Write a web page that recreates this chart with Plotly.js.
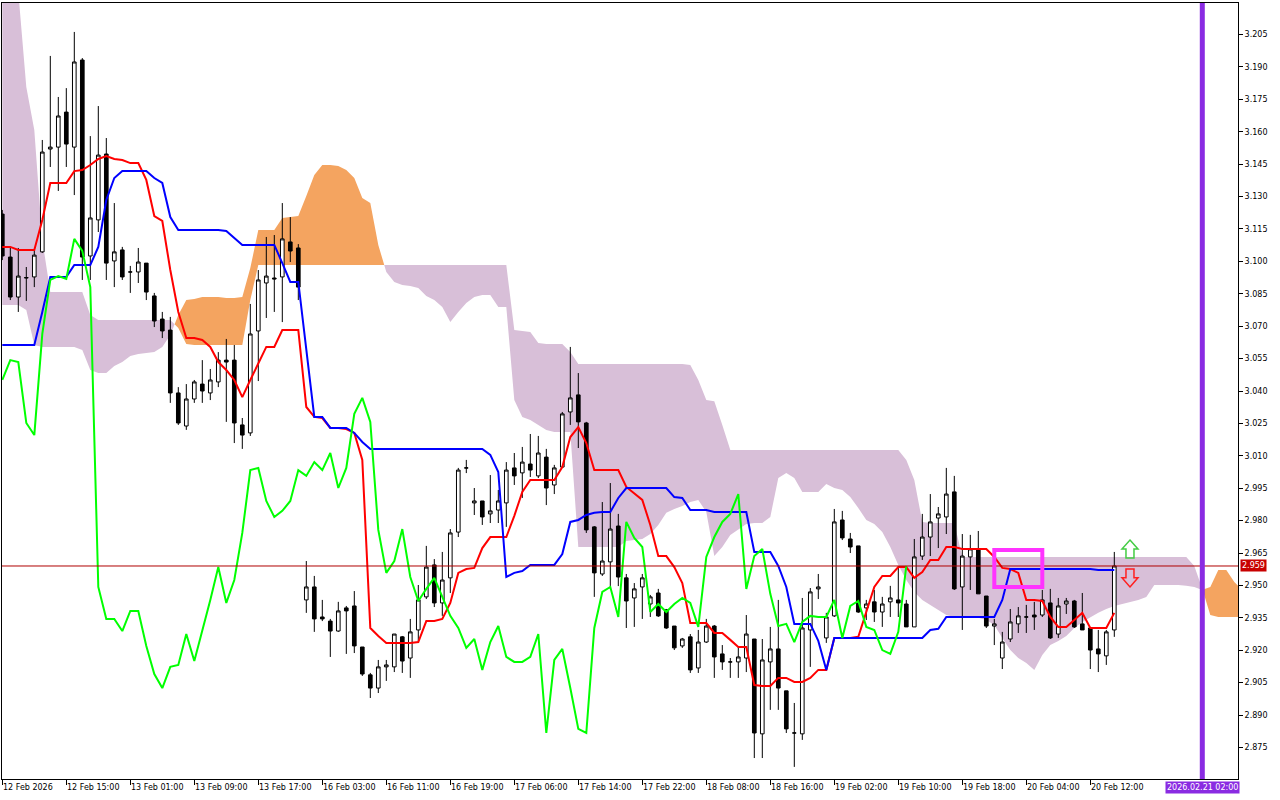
<!DOCTYPE html>
<html>
<head>
<meta charset="utf-8">
<script src="https://cdn.plot.ly/plotly-3.0.1.min.js"></script>
<style>html,body{margin:0;padding:0;background:#fff;}#chart{width:1280px;height:800px;}</style>
</head>
<body>
<div id="chart"></div>
<script>
// ---------------- DATA (H1 candles, index = bar number) ----------------
const openP = [3.1219,3.1020,3.0835,3.0923,3.0928,3.1044,3.1520,3.1529,3.1691,3.1529,
3.1932,3.1025,3.1192,3.1497,3.1002,3.1053,3.0951,3.0951,3.0992,3.0840,
3.0733,3.0682,3.0391,3.0238,3.0363,3.0432,3.0391,3.0442,3.0543,3.0543,
3.0243,3.0206,3.0678,3.0900,3.0923,3.0928,3.1090,3.1062,2.9433,2.9493,
2.9354,2.9335,2.9289,2.9396,2.9405,2.9215,2.9086,2.9025,2.9123,2.9123,
2.9262,2.9164,2.9294,2.9447,2.9595,2.9419,2.9535,2.9747,3.0044,2.9882,
2.9891,2.9831,2.9849,2.9882,3.0044,3.0021,3.0062,3.0007,3.0094,2.9965,
3.0048,3.0303,3.0382,3.0252,2.9771,2.9553,2.9609,2.9775,2.9535,2.9442,
2.9493,2.9414,2.9465,2.9387,2.9312,2.9220,2.9262,2.9118,2.9238,2.9312,
2.9183,2.9146,2.9146,2.9164,2.9252,2.8813,2.9146,2.9206,2.9012,2.8817,
2.8813,2.9294,2.9484,2.9257,2.9359,2.9803,2.9715,2.9683,2.9396,2.9424,
2.9377,2.9424,2.9433,2.9414,2.9308,2.9636,2.9724,2.9812,2.9817,2.9933,
2.9493,2.9632,2.9669,2.9451,2.9312,2.9164,2.9252,2.9322,2.9354,2.9363,
2.9363,2.9419,2.9275,2.9414,2.9428,2.9322,2.9303,2.9206,2.9174,2.9294];
const highP = [3.1238,3.1062,3.1062,3.0974,3.1048,3.1562,3.1951,3.1761,3.1802,3.2062,
3.1941,3.1580,3.1719,3.1571,3.1270,3.1067,3.0979,3.1062,3.0992,3.0854,
3.0766,3.0743,3.0418,3.0432,3.0451,3.0543,3.0502,3.0580,3.0641,3.0613,
3.0275,3.0803,3.0960,3.1113,3.1122,3.1270,3.1205,3.1080,2.9613,2.9544,
2.9433,2.9345,2.9424,2.9405,2.9474,2.9215,2.9095,2.9155,2.9155,2.9275,
2.9266,2.9345,2.9502,2.9683,2.9622,2.9655,2.9761,3.0044,3.0081,2.9951,
2.9891,3.0011,2.9942,3.0071,3.0113,3.0141,3.0201,3.0192,3.0132,3.0058,
3.0303,3.0604,3.0483,3.0257,2.9775,2.9886,2.9974,2.9831,2.9553,2.9511,
2.9553,2.9456,2.9484,2.9391,2.9312,2.9257,2.9275,2.9294,2.9345,2.9317,
2.9224,2.9164,2.9215,2.9363,2.9252,2.9252,2.9308,2.9433,2.9012,2.8956,
2.9442,2.9488,2.9553,2.9373,2.9854,2.9845,2.9743,2.9683,2.9433,2.9479,
2.9447,2.9498,2.9585,2.9433,2.9715,2.9831,2.9923,2.9863,3.0044,3.0007,
2.9738,2.9734,2.9752,2.9451,2.9345,2.9285,2.9391,2.9400,2.9410,2.9424,
2.9479,2.9484,2.9442,2.9442,2.9433,2.9465,2.9303,2.9294,2.9294,2.9655];
const lowP = [3.1006,3.0821,3.0766,3.0817,3.0881,3.1039,3.1437,3.1326,3.1437,3.1307,
3.0914,3.0914,3.1136,3.0914,3.0881,3.0914,3.0854,3.0900,3.0821,3.0696,
3.0645,3.0345,3.0243,3.0220,3.0345,3.0345,3.0358,3.0418,3.0257,3.0159,
3.0132,3.0192,3.0446,3.0738,3.0766,3.0719,3.0997,3.0821,2.9373,2.9285,
2.9335,2.9169,2.9285,2.9183,2.9187,2.9081,2.8979,2.9002,2.9058,2.9099,
2.9095,2.9072,2.9238,2.9437,2.9400,2.9359,2.9465,2.9724,3.0020,2.9826,
2.9780,2.9789,2.9789,2.9771,2.9965,2.9905,3.0002,2.9997,2.9872,2.9923,
3.0044,3.0243,3.0136,2.9743,2.9447,2.9544,2.9493,2.9497,2.9303,2.9308,
2.9345,2.9354,2.9354,2.9299,2.9201,2.9211,2.9095,2.9095,2.9234,2.9072,
2.9109,2.9072,2.9072,2.9099,2.8701,2.8701,2.8924,2.8924,2.8817,2.8660,
2.8785,2.9123,2.9437,2.9234,2.9354,2.9710,2.9650,2.9373,2.9340,2.9331,
2.9308,2.9354,2.9354,2.9308,2.9308,2.9618,2.9636,2.9673,2.9738,2.9479,
2.9294,2.9479,2.9461,2.9303,2.9224,2.9113,2.9238,2.9280,2.9280,2.9294,
2.9354,2.9252,2.9257,2.9368,2.9303,2.9294,2.9113,2.9099,2.9132,2.9262];
const closeP = [3.1025,3.0835,3.0932,3.0925,3.1029,3.1506,3.1529,3.1673,3.1543,3.1923,
3.1020,3.1201,3.1492,3.0992,3.1044,3.0928,3.0951,3.0997,3.0858,3.0724,
3.0678,3.0391,3.0252,3.0363,3.0442,3.0400,3.0451,3.0543,3.0534,3.0252,
3.0196,3.0664,3.0914,3.0932,3.0919,3.1104,3.1048,3.0881,2.9493,2.9345,
2.9345,2.9289,2.9382,2.9382,2.9220,2.9090,2.9025,2.9123,2.9132,2.9275,
2.9150,2.9285,2.9433,2.9585,2.9419,2.9525,2.9743,3.0034,3.0044,2.9891,
2.9817,2.9845,2.9891,3.0034,3.0007,3.0071,3.0034,3.0113,2.9951,3.0044,
3.0294,3.0368,3.0257,2.9757,2.9558,2.9613,2.9761,2.9539,2.9428,2.9484,
2.9535,2.9447,2.9359,2.9303,2.9211,2.9252,2.9109,2.9238,2.9312,2.9169,
2.9146,2.9146,2.9169,2.9275,2.8817,2.9155,2.9206,2.9025,2.8836,2.8817,
2.9303,2.9470,2.9493,2.9354,2.9794,2.9720,2.9678,2.9377,2.9414,2.9377,
2.9414,2.9442,2.9419,2.9308,2.9632,2.9724,2.9794,2.9831,2.9923,2.9484,
2.9636,2.9669,2.9461,2.9312,2.9322,2.9238,2.9331,2.9359,2.9354,2.9354,
2.9433,2.9257,2.9405,2.9428,2.9308,2.9294,2.9201,2.9183,2.9285,2.9590];

// Ichimoku lines
const tenkan = [3.1067,3.1067,3.1053,3.1053,3.1053,3.1192,3.1363,3.1363,3.1363,3.1418,
3.1423,3.1446,3.1474,3.1488,3.1474,3.1469,3.1455,3.1455,3.1377,3.1210,
3.1187,3.0960,3.0766,3.0645,3.0645,3.0636,3.0604,3.0534,3.0497,3.0451,
3.0372,3.0451,3.0529,3.0604,3.0604,3.0682,3.0682,3.0682,3.0326,3.0280,
3.0275,3.0229,3.0229,3.0224,3.0206,3.0081,2.9303,2.9266,2.9234,2.9234,
2.9234,2.9234,2.9238,2.9335,2.9335,2.9345,2.9419,2.9558,2.9576,2.9581,
2.9673,2.9724,2.9724,2.9724,2.9822,2.9933,2.9988,2.9988,2.9988,2.9988,
3.0048,3.0187,3.0233,3.0159,3.0034,3.0034,3.0034,3.0034,2.9956,2.9928,
2.9896,2.9780,2.9636,2.9636,2.9585,2.9511,2.9326,2.9326,2.9326,2.9280,
2.9280,2.9248,2.9215,2.9215,2.9039,2.9035,2.9035,2.9072,2.9072,2.9053,
2.9053,2.9072,2.9109,2.9109,2.9257,2.9257,2.9257,2.9262,2.9373,2.9493,
2.9544,2.9544,2.9585,2.9585,2.9535,2.9562,2.9618,2.9618,2.9678,2.9678,
2.9669,2.9669,2.9669,2.9669,2.9632,2.9581,2.9576,2.9558,2.9433,2.9433,
2.9428,2.9354,2.9308,2.9308,2.9340,2.9373,2.9303,2.9303,2.9303,2.9373];
const kijun = [3.0613,3.0613,3.0613,3.0613,3.0613,3.0766,3.0928,3.0928,3.0928,3.0983,
3.0983,3.0983,3.1067,3.1284,3.1386,3.1418,3.1418,3.1418,3.1418,3.1386,
3.1363,3.1205,3.1145,3.1145,3.1145,3.1145,3.1145,3.1145,3.1141,3.1108,
3.1076,3.1076,3.1076,3.1076,3.1076,3.0992,3.0905,3.0905,3.0590,3.0280,
3.0280,3.0229,3.0229,3.0229,3.0206,3.0164,3.0132,3.0132,3.0132,3.0132,
3.0132,3.0132,3.0132,3.0132,3.0132,3.0132,3.0132,3.0132,3.0132,3.0132,
3.0132,3.0104,3.0025,2.9539,2.9558,2.9567,2.9595,2.9595,2.9595,2.9595,
2.9645,2.9794,2.9803,2.9826,2.9836,2.9840,2.9840,2.9905,2.9951,2.9951,
2.9951,2.9951,2.9951,2.9951,2.9909,2.9905,2.9849,2.9849,2.9849,2.9840,
2.9840,2.9840,2.9840,2.9840,2.9655,2.9655,2.9655,2.9590,2.9493,2.9322,
2.9322,2.9322,2.9243,2.9109,2.9257,2.9257,2.9257,2.9257,2.9257,2.9257,
2.9257,2.9257,2.9257,2.9257,2.9257,2.9257,2.9294,2.9299,2.9354,2.9354,
2.9354,2.9354,2.9354,2.9354,2.9354,2.9433,2.9576,2.9576,2.9576,2.9576,
2.9576,2.9576,2.9576,2.9576,2.9576,2.9576,2.9576,2.9572,2.9572,2.9572];
const chikou = [3.0451,3.0543,3.0534,3.0252,3.0196,3.0664,3.0914,3.0932,3.0919,3.1104,
3.1048,3.0881,2.9493,2.9345,2.9345,2.9289,2.9382,2.9382,2.9220,2.9090,
2.9025,2.9123,2.9132,2.9275,2.9150,2.9285,2.9433,2.9585,2.9419,2.9525,
2.9743,3.0034,3.0044,2.9891,2.9817,2.9845,2.9891,3.0034,3.0007,3.0071,
3.0034,3.0113,2.9951,3.0044,3.0294,3.0368,3.0257,2.9757,2.9558,2.9613,
2.9761,2.9539,2.9428,2.9484,2.9535,2.9447,2.9359,2.9303,2.9211,2.9252,
2.9109,2.9238,2.9312,2.9169,2.9146,2.9146,2.9169,2.9275,2.8817,2.9155,
2.9206,2.9025,2.8836,2.8817,2.9303,2.9470,2.9493,2.9354,2.9794,2.9720,
2.9678,2.9377,2.9414,2.9377,2.9414,2.9442,2.9419,2.9308,2.9632,2.9724,
2.9794,2.9831,2.9923,2.9484,2.9636,2.9669,2.9461,2.9312,2.9322,2.9238,
2.9331,2.9359,2.9354,2.9354,2.9433,2.9257,2.9405,2.9428,2.9308,2.9294,
2.9201,2.9183,2.9285,2.9590];
const spanA = [3.0798,3.0798,3.0798,3.0775,3.0613,3.0604,3.0604,3.0604,3.0604,3.0604,
3.0590,3.0497,3.0483,3.0483,3.0516,3.0534,3.0562,3.0571,3.0576,3.0580,
3.0604,3.0659,3.0752,3.0821,3.0826,3.0835,3.0835,3.0835,3.0830,3.0830,
3.0835,3.0969,3.1145,3.1145,3.1145,3.1201,3.1205,3.1210,3.1303,3.1400,
3.1446,3.1446,3.1441,3.1423,3.1386,3.1293,3.1270,3.1076,3.0951,3.0905,
3.0891,3.0886,3.0877,3.0840,3.0821,3.0789,3.0719,3.0766,3.0807,3.0835,
3.0844,3.0844,3.0789,3.0789,3.0358,3.0280,3.0266,3.0243,3.0220,3.0210,
3.0210,3.0210,2.9678,2.9678,2.9678,2.9678,2.9678,2.9678,2.9706,2.9710,
2.9715,2.9738,2.9780,2.9836,2.9854,2.9868,2.9886,2.9896,2.9840,2.9636,
2.9678,2.9734,2.9761,2.9784,2.9789,2.9789,2.9817,2.9997,3.0021,2.9997,
2.9933,2.9933,2.9933,2.9970,2.9951,2.9942,2.9909,2.9858,2.9803,2.9784,
2.9747,2.9678,2.9595,2.9525,2.9470,2.9433,2.9410,2.9387,2.9363,2.9354,
2.9350,2.9350,2.9350,2.9340,2.9317,2.9257,2.9201,2.9164,2.9141,2.9109,
2.9178,2.9224,2.9243,2.9266,2.9303,2.9331,2.9354,2.9373,2.9391,2.9405,
2.9414,2.9424,2.9433,2.9447,2.9502,2.9502,2.9502,2.9502,2.9498,2.9493,
2.9479,2.9493,2.9572,2.9572,2.9516,2.9479];
const spanB = [3.2395,3.2325,3.2247,3.1807,3.1608,3.1099,3.0858,3.0858,3.0858,3.0858,
3.0858,3.0752,3.0729,3.0729,3.0729,3.0729,3.0729,3.0729,3.0729,3.0729,
3.0729,3.0729,3.0692,3.0618,3.0613,3.0613,3.0613,3.0613,3.0613,3.0613,
3.0613,3.0821,3.0983,3.0983,3.0983,3.0983,3.0983,3.0983,3.0983,3.0983,
3.0983,3.0983,3.0983,3.0983,3.0983,3.0983,3.0983,3.0983,3.0983,3.0983,
3.0983,3.0983,3.0983,3.0983,3.0983,3.0983,3.0983,3.0983,3.0983,3.0983,
3.0983,3.0983,3.0983,3.0983,3.0682,3.0678,3.0673,3.0622,3.0618,3.0618,
3.0618,3.0580,3.0525,3.0525,3.0525,3.0525,3.0525,3.0525,3.0525,3.0525,
3.0525,3.0525,3.0525,3.0525,3.0525,3.0525,3.0520,3.0451,3.0358,3.0353,
3.0243,3.0127,3.0127,3.0127,3.0127,3.0127,3.0127,3.0127,3.0127,3.0127,
3.0127,3.0127,3.0127,3.0127,3.0127,3.0127,3.0127,3.0127,3.0127,3.0127,
3.0127,3.0127,3.0127,3.0081,2.9988,2.9794,2.9789,2.9789,2.9789,2.9789,
2.9632,2.9632,2.9632,2.9632,2.9632,2.9632,2.9632,2.9632,2.9632,2.9632,
2.9632,2.9632,2.9632,2.9632,2.9632,2.9632,2.9632,2.9632,2.9632,2.9632,
2.9632,2.9632,2.9632,2.9632,2.9632,2.9632,2.9632,2.9632,2.9632,2.9590,
2.9484,2.9363,2.9354,2.9354,2.9354,2.9354];

// time axis labels (bar index of each label)
const timeTickIdx = [0,8,16,24,32,40,48,56,64,72,80,88,96,104,112,120,128,136];
const timeTickText = ["12 Feb 2026","12 Feb 15:00","13 Feb 01:00","13 Feb 09:00","13 Feb 17:00",
  "16 Feb 03:00","16 Feb 11:00","16 Feb 19:00","17 Feb 06:00","17 Feb 14:00","17 Feb 22:00",
  "18 Feb 08:00","18 Feb 16:00","19 Feb 02:00","19 Feb 10:00","19 Feb 18:00","20 Feb 04:00","20 Feb 12:00"];
const priceTicks = [2.875,2.890,2.905,2.920,2.935,2.950,2.965,2.980,2.995,3.010,3.025,3.040,3.055,3.070,3.085,3.100,3.115,3.130,3.145,3.160,3.175,3.190,3.205];
const lastPrice = 2.959;
const separatorIdx = 150;
const separatorText = "2026.02.21 02:00";
const highlightIdx = [124, 130];
const highlightPrice = [2.9493, 2.9664];
// hollow signal arrows: bar position, half widths (bars) and price levels
const signalIdx = 140.96;
const arrowHalfHead = 1.0, arrowHalfShaft = 0.5;
const upArrowPrice = [2.9710, 2.9669, 2.9627];     // tip, head base, tail
const downArrowPrice = [2.9493, 2.9535, 2.9576];   // tip, head base, tail

// ---------------- BUILD ----------------
const barIdx = openP.map((_, i) => i);

// cloud with crossing points inserted so each colour fills only its own part
const cx = [], ca = [], cb = [];
for (let i = 0; i < spanA.length; i++) {
  cx.push(i); ca.push(spanA[i]); cb.push(spanB[i]);
  if (i < spanA.length - 1) {
    const d0 = spanA[i] - spanB[i], d1 = spanA[i + 1] - spanB[i + 1];
    if (d0 * d1 < 0) {
      const t = d0 / (d0 - d1);
      const v = spanA[i] + t * (spanA[i + 1] - spanA[i]);
      cx.push(i + t); ca.push(v); cb.push(v);
    }
  }
}
const ctop = ca.map((v, k) => Math.max(v, cb[k]));
const noLine = {width: 0, color: 'rgba(0,0,0,0)'};

const traces = [
  {x: cx, y: cb, mode: 'lines', line: noLine, hoverinfo: 'skip'},
  {x: cx, y: ctop, mode: 'lines', line: noLine, fill: 'tonexty', fillcolor: '#f4a460', hoverinfo: 'skip'},
  {x: cx, y: ca, mode: 'lines', line: noLine, hoverinfo: 'skip'},
  {x: cx, y: ctop, mode: 'lines', line: noLine, fill: 'tonexty', fillcolor: '#d8bfd8', hoverinfo: 'skip'},
  // price bars and lines live on an overlay axis so they are drawn above the cloud
  {type: 'candlestick', x: barIdx, open: openP, high: highP, low: lowP, close: closeP, yaxis: 'y2',
   increasing: {line: {color: '#000000', width: 1}, fillcolor: '#ffffff'},
   decreasing: {line: {color: '#000000', width: 1}, fillcolor: '#000000'},
   whiskerwidth: 0, hoverinfo: 'skip'},
  {x: barIdx, y: tenkan, yaxis: 'y2', mode: 'lines', line: {color: '#ff0000', width: 2}, hoverinfo: 'skip'},
  {x: barIdx, y: kijun, yaxis: 'y2', mode: 'lines', line: {color: '#0000ff', width: 2}, hoverinfo: 'skip'},
  {x: chikou.map((_, i) => i), y: chikou, yaxis: 'y2', mode: 'lines', line: {color: '#00ff00', width: 2}, hoverinfo: 'skip'}
];

const fontSmall = {family: 'DejaVu Sans', size: 8, color: '#000000'};
const annotations = timeTickIdx.map((ix, k) => ({
  x: ix, y: 0, xref: 'x', yref: 'paper', text: timeTickText[k], showarrow: false,
  xanchor: 'left', yanchor: 'top', yshift: -2, xshift: -1, font: fontSmall
}));
annotations.push({x: 1, xref: 'paper', y: lastPrice, yref: 'y', text: lastPrice.toFixed(3),
  showarrow: false, xanchor: 'left', xshift: 2, bgcolor: '#c80000', borderpad: 1,
  font: {family: 'DejaVu Sans', size: 8, color: '#ffffff'}});
annotations.push({x: separatorIdx, xref: 'x', y: 0, yref: 'paper', yanchor: 'top', yshift: -2,
  text: separatorText, showarrow: false, bgcolor: '#8a2be2', borderpad: 1,
  font: {family: 'DejaVu Sans', size: 8, color: '#ffffff'}});

function arrowPath(p) {
  const c = signalIdx, h = arrowHalfHead, s = arrowHalfShaft;
  return 'M' + c + ',' + p[0] + ' L' + (c + h) + ',' + p[1] + ' L' + (c + s) + ',' + p[1] +
    ' L' + (c + s) + ',' + p[2] + ' L' + (c - s) + ',' + p[2] + ' L' + (c - s) + ',' + p[1] +
    ' L' + (c - h) + ',' + p[1] + ' Z';
}

const shapes = [
  {type: 'line', xref: 'paper', x0: 0, x1: 1, yref: 'y', y0: lastPrice, y1: lastPrice,
   line: {color: '#b00000', width: 1}, layer: 'above'},
  {type: 'line', xref: 'x', x0: separatorIdx, x1: separatorIdx, yref: 'paper', y0: 0, y1: 1,
   line: {color: '#8a2be2', width: 5}, layer: 'above'},
  {type: 'rect', xref: 'x', x0: highlightIdx[0], x1: highlightIdx[1], yref: 'y',
   y0: highlightPrice[0], y1: highlightPrice[1], line: {color: '#ff33ff', width: 4}, layer: 'above'},
  {type: 'path', xref: 'x', yref: 'y', path: arrowPath(upArrowPrice), fillcolor: 'rgba(255,255,255,0)',
   line: {color: '#44cc44', width: 1.5}, layer: 'above'},
  {type: 'path', xref: 'x', yref: 'y', path: arrowPath(downArrowPrice), fillcolor: 'rgba(255,255,255,0)',
   line: {color: '#ff2020', width: 1.5}, layer: 'above'}
];

const yRange = [2.8604, 3.2196];
const layout = {
  width: 1280, height: 800,
  margin: {l: 2, r: 42, t: 3, b: 21, pad: 0},
  paper_bgcolor: '#ffffff', plot_bgcolor: '#ffffff',
  showlegend: false,
  boxgap: 0.35,
  xaxis: {range: [-0.0375, 154.4625], tickvals: timeTickIdx, showticklabels: false,
    ticks: 'outside', ticklen: 5, tickcolor: '#000', showgrid: false, zeroline: false,
    showline: true, mirror: true, linecolor: '#000', linewidth: 1,
    rangeslider: {visible: false}, fixedrange: true},
  yaxis: {side: 'right', range: yRange, tickvals: priceTicks,
    ticktext: priceTicks.map(v => v.toFixed(3)), ticks: 'outside', ticklen: 4, tickcolor: '#000',
    tickfont: fontSmall, showgrid: false, zeroline: false, showline: true, mirror: true,
    linecolor: '#000', linewidth: 1, fixedrange: true},
  yaxis2: {overlaying: 'y', side: 'right', range: yRange, showticklabels: false, ticks: '',
    showgrid: false, zeroline: false, showline: false, fixedrange: true},
  annotations: annotations,
  shapes: shapes,
  hovermode: false
};

Plotly.newPlot('chart', traces, layout, {displayModeBar: false, staticPlot: true});
</script>
</body>
</html>
